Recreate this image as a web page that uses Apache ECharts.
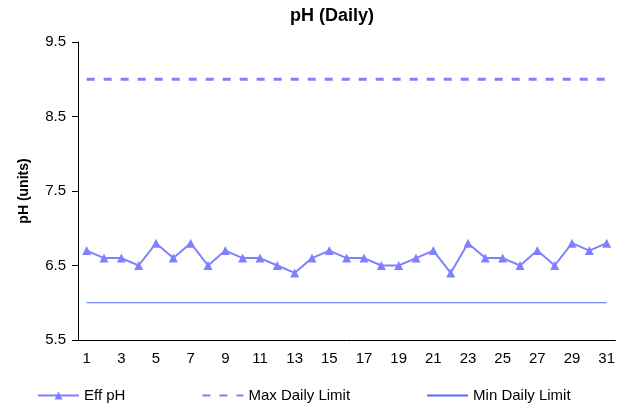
<!DOCTYPE html>
<html>
<head>
<meta charset="utf-8">
<script src="https://cdn.jsdelivr.net/npm/echarts@6/dist/echarts.min.js"></script>
<style>
html, body { margin: 0; padding: 0; background: #fff; }
#main { width: 618px; height: 409px; }
</style>
</head>
<body>
<div id="main"></div>
<script>
var days = [];
for (var i = 1; i <= 31; i++) days.push(String(i));

// Eff pH readings per day
var effPh = [6.7, 6.6, 6.6, 6.5, 6.8, 6.6, 6.8, 6.5, 6.7, 6.6, 6.6, 6.5, 6.4, 6.6, 6.7, 6.6,
             6.6, 6.5, 6.5, 6.6, 6.7, 6.4, 6.8, 6.6, 6.6, 6.5, 6.7, 6.5, 6.8, 6.7, 6.8];
var maxLimit = 9.0;
var minLimit = 6.0;
var yTicks = [5.5, 6.5, 7.5, 8.5, 9.5];

var maxSeries = days.map(function () { return maxLimit; });
var minSeries = days.map(function () { return minLimit; });

var myChart = echarts.init(document.getElementById('main'));
var font = 'Liberation Sans, Arial, sans-serif';

var option = {
    animation: false,
    textStyle: { fontFamily: font },
    title: {
        text: 'pH (Daily)',
        left: 290,
        top: 7,
        padding: 0,
        textStyle: { fontSize: 18, fontWeight: 'bold', color: '#000', fontFamily: font }
    },
    grid: { left: 78, right: 2, top: 42, bottom: 69 },
    legend: {
        left: 37,
        top: 388,
        padding: 0,
        itemWidth: 41,
        itemHeight: 10,
        itemGap: 76,
        textStyle: { fontSize: 15, color: '#000', fontFamily: font },
        data: ['Eff pH', 'Max Daily Limit', 'Min Daily Limit']
    },
    xAxis: {
        type: 'category',
        data: days,
        boundaryGap: true,
        axisLine: { lineStyle: { color: '#000', width: 1 } },
        axisTick: { interval: 0, length: 5, lineStyle: { color: '#000' } },
        axisLabel: { interval: 1, color: '#000', fontSize: 15, margin: 11, fontFamily: font },
        splitLine: { show: false }
    },
    yAxis: {
        type: 'value',
        min: 5.5,
        max: 9.5,
        name: 'pH (units)',
        nameLocation: 'middle',
        nameGap: 47,
        nameTextStyle: { fontSize: 14, fontWeight: 'bold', color: '#000', fontFamily: font },
        axisLine: { show: true, lineStyle: { color: '#000', width: 1 } },
        axisTick: { show: true, length: 6, customValues: yTicks, lineStyle: { color: '#000' } },
        axisLabel: {
            customValues: yTicks,
            color: '#000',
            fontSize: 15,
            margin: 12,
            fontFamily: font,
            formatter: function (v) { return v.toFixed(1); }
        },
        splitLine: { show: false }
    },
    series: [
        {
            name: 'Eff pH',
            type: 'line',
            data: effPh,
            symbol: 'triangle',
            symbolSize: 9,
            itemStyle: { color: '#8080ff' },
            lineStyle: { color: '#8080ff', width: 2 }
        },
        {
            name: 'Max Daily Limit',
            type: 'line',
            data: maxSeries,
            symbol: 'none',
            itemStyle: { color: '#8080ff', opacity: 0 },
            lineStyle: { color: '#8080ff', width: 3, type: [8, 9], opacity: 1 }
        },
        {
            name: 'Min Daily Limit',
            type: 'line',
            data: minSeries,
            symbol: 'none',
            itemStyle: { color: '#4d6bff', opacity: 0 },
            lineStyle: { color: '#4d6bff', width: 1, opacity: 1 }
        }
    ]
};
option && myChart.setOption(option);
</script>
</body>
</html>
